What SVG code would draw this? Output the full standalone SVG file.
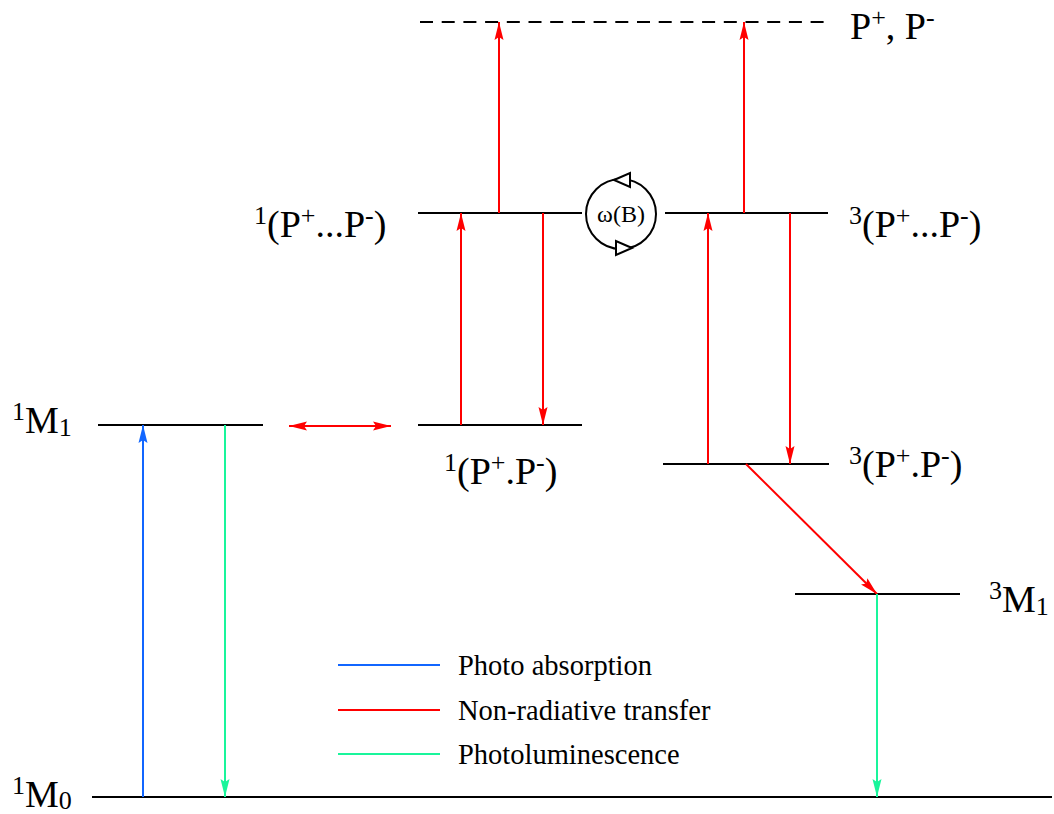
<svg xmlns="http://www.w3.org/2000/svg" width="1054" height="814" viewBox="0 0 1054 814">
<defs>
<marker id="ar" markerUnits="userSpaceOnUse" markerWidth="20" markerHeight="10" refX="18" refY="5" orient="auto"><path d="M0,0.5 L18,5 L0,9.5 L3,5 z" fill="#ff0000"/></marker>
<marker id="arS" markerUnits="userSpaceOnUse" markerWidth="20" markerHeight="10" refX="0" refY="5" orient="auto"><path d="M18,0.5 L0,5 L18,9.5 L15,5 z" fill="#ff0000"/></marker>
<marker id="ab" markerUnits="userSpaceOnUse" markerWidth="20" markerHeight="10" refX="18" refY="5" orient="auto"><path d="M0,0.5 L18,5 L0,9.5 L3,5 z" fill="#1166ff"/></marker>
<marker id="ag" markerUnits="userSpaceOnUse" markerWidth="20" markerHeight="10" refX="18" refY="5" orient="auto"><path d="M0,0.5 L18,5 L0,9.5 L3,5 z" fill="#19f59b"/></marker>
</defs>

<g id="level-PP">
<line x1="420" y1="22" x2="832" y2="22" stroke="#000" stroke-width="2" stroke-dasharray="13,8.7"/>
<text font-family="Liberation Serif" font-size="38" x="850" y="39">P<tspan font-size="26" dy="-13">+</tspan><tspan dy="13">, P</tspan><tspan font-size="26" dy="-13">-</tspan></text>
</g>

<g id="level-1PdotsP">
<line x1="418" y1="213" x2="582" y2="213" stroke="#000" stroke-width="2"/>
<text font-family="Liberation Serif" font-size="38" x="254" y="237"><tspan font-size="26" dy="-13">1</tspan><tspan dy="13">(P</tspan><tspan font-size="26" dy="-13">+</tspan><tspan dy="13">...P</tspan><tspan font-size="26" dy="-13">-</tspan><tspan dy="13">)</tspan></text>
</g>

<g id="level-3PdotsP">
<line x1="665" y1="213" x2="828" y2="213" stroke="#000" stroke-width="2"/>
<text font-family="Liberation Serif" font-size="38" x="849" y="237"><tspan font-size="26" dy="-13">3</tspan><tspan dy="13">(P</tspan><tspan font-size="26" dy="-13">+</tspan><tspan dy="13">...P</tspan><tspan font-size="26" dy="-13">-</tspan><tspan dy="13">)</tspan></text>
</g>

<g id="isc-omega">
<circle cx="621" cy="214" r="35" fill="none" stroke="#000" stroke-width="2"/>
<path d="M614,180 L630,173 L630,187 z" fill="#fff" stroke="#000" stroke-width="2"/>
<path d="M632,248 L616,241 L616,255 z" fill="#fff" stroke="#000" stroke-width="2"/>
<text font-family="Liberation Serif" x="621" y="222" font-size="24" text-anchor="middle">ω(B)</text>
</g>

<g id="level-1M1">
<line x1="98" y1="425" x2="263" y2="425" stroke="#000" stroke-width="2"/>
<text font-family="Liberation Serif" font-size="38" x="12" y="433"><tspan font-size="26" dy="-13">1</tspan><tspan dy="13">M</tspan><tspan font-size="26" dy="3">1</tspan></text>
</g>

<g id="level-1PdotP">
<line x1="418" y1="425" x2="582" y2="425" stroke="#000" stroke-width="2"/>
<text font-family="Liberation Serif" font-size="38" x="444" y="484"><tspan font-size="26" dy="-13">1</tspan><tspan dy="13">(P</tspan><tspan font-size="26" dy="-13">+</tspan><tspan dy="13">.P</tspan><tspan font-size="26" dy="-13">-</tspan><tspan dy="13">)</tspan></text>
</g>

<g id="level-3PdotP">
<line x1="663" y1="464" x2="829" y2="464" stroke="#000" stroke-width="2"/>
<text font-family="Liberation Serif" font-size="38" x="849" y="477"><tspan font-size="26" dy="-13">3</tspan><tspan dy="13">(P</tspan><tspan font-size="26" dy="-13">+</tspan><tspan dy="13">.P</tspan><tspan font-size="26" dy="-13">-</tspan><tspan dy="13">)</tspan></text>
</g>

<g id="level-3M1">
<line x1="795" y1="594" x2="960" y2="594" stroke="#000" stroke-width="2"/>
<text font-family="Liberation Serif" font-size="38" x="989" y="612"><tspan font-size="26" dy="-13">3</tspan><tspan dy="13">M</tspan><tspan font-size="26" dy="3">1</tspan></text>
</g>

<g id="level-1M0">
<line x1="92" y1="797" x2="1052" y2="797" stroke="#000" stroke-width="2"/>
<text font-family="Liberation Serif" font-size="38" x="12" y="807"><tspan font-size="26" dy="-13">1</tspan><tspan dy="13">M</tspan><tspan font-size="26" dy="2">0</tspan></text>
</g>

<g id="connectors" stroke-width="2" fill="none">
<g stroke="#ff0000" marker-end="url(#ar)">
<line x1="499" y1="213" x2="499" y2="22"/>
<line x1="744" y1="213" x2="744" y2="22"/>
<line x1="461" y1="425" x2="461" y2="213"/>
<line x1="543" y1="213" x2="543" y2="425"/>
<line x1="708" y1="464" x2="708" y2="213"/>
<line x1="790" y1="213" x2="790" y2="464"/>
<line x1="289" y1="426" x2="391" y2="426" marker-start="url(#arS)"/>
<line x1="746" y1="464" x2="877" y2="594"/>
</g>
<line x1="143" y1="797" x2="143" y2="425" stroke="#1166ff" marker-end="url(#ab)"/>
<g stroke="#19f59b" marker-end="url(#ag)">
<line x1="225" y1="425" x2="225" y2="797"/>
<line x1="877" y1="594" x2="877" y2="797"/>
</g>
</g>

<g id="legend" font-family="Liberation Serif" font-size="28.5">
<line x1="338" y1="665" x2="440" y2="665" stroke="#1166ff" stroke-width="2"/>
<text font-family="Liberation Serif" x="458" y="675">Photo absorption</text>
<line x1="338" y1="710" x2="440" y2="710" stroke="#ff0000" stroke-width="2"/>
<text font-family="Liberation Serif" x="458" y="720">Non-radiative transfer</text>
<line x1="338" y1="754" x2="440" y2="754" stroke="#19f59b" stroke-width="2"/>
<text font-family="Liberation Serif" x="458" y="764">Photoluminescence</text>
</g>
</svg>
